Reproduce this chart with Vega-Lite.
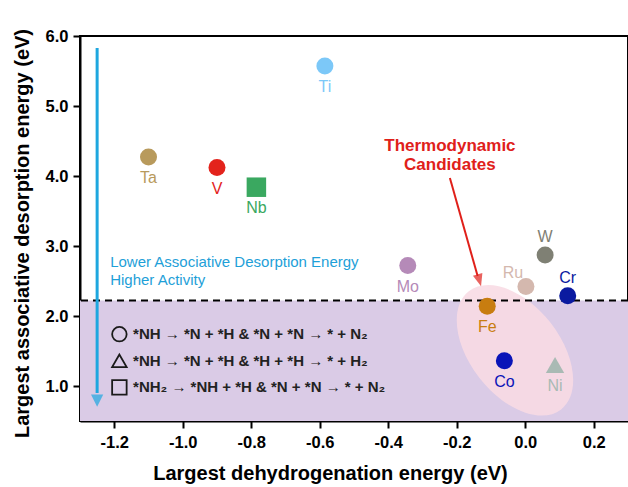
{
  "$schema": "https://vega.github.io/schema/vega-lite/v6.json",
  "width": 548,
  "height": 385,
  "autosize": {"type": "none"},
  "padding": {"left": 80, "top": 36, "right": 0, "bottom": 66},
  "background": "white",
  "config": {
    "font": "Liberation Sans",
    "view": {"stroke": "black", "strokeWidth": 2},
    "axis": {
      "domainColor": "black", "domainWidth": 2, "tickColor": "black", "tickWidth": 2,
      "labelFont": "Liberation Sans", "labelFontWeight": "bold", "labelFontSize": 16.5, "labelColor": "black",
      "titleFont": "Liberation Sans", "titleFontWeight": "bold", "titleFontSize": 20, "titleColor": "black",
      "grid": false
    }
  },
  "datasets": {
    "elements": [
      {"el": "Ti", "dh": -0.585, "ad": 5.57, "rxn": "NH-N2"},
      {"el": "Ta", "dh": -1.10, "ad": 4.27, "rxn": "NH-N2"},
      {"el": "V", "dh": -0.90, "ad": 4.12, "rxn": "NH-N2"},
      {"el": "Nb", "dh": -0.785, "ad": 3.84, "rxn": "NH2-N2"},
      {"el": "Mo", "dh": -0.343, "ad": 2.72, "rxn": "NH-N2"},
      {"el": "W", "dh": 0.058, "ad": 2.87, "rxn": "NH-N2"},
      {"el": "Ru", "dh": 0.002, "ad": 2.42, "rxn": "NH-N2"},
      {"el": "Cr", "dh": 0.124, "ad": 2.29, "rxn": "NH-N2"},
      {"el": "Fe", "dh": -0.111, "ad": 2.14, "rxn": "NH-N2"},
      {"el": "Co", "dh": -0.061, "ad": 1.36, "rxn": "NH-N2"},
      {"el": "Ni", "dh": 0.087, "ad": 1.30, "rxn": "NH-H2"}
    ],
    "legend": [
      {"rxn": "NH-N2", "sx": -1.185, "tx": -1.145, "ly": 1.74, "txt": "*NH → *N + *H & *N + *N → * + N₂"},
      {"rxn": "NH-H2", "sx": -1.185, "tx": -1.145, "ly": 1.36, "txt": "*NH → *N + *H & *H + *H → * + H₂"},
      {"rxn": "NH2-N2", "sx": -1.185, "tx": -1.145, "ly": 0.98, "txt": "*NH₂ → *NH + *H & *N + *N → * + N₂"}
    ]
  },
  "encoding": {
    "x": {"type": "quantitative"},
    "y": {"type": "quantitative"}
  },
  "layer": [
    {
      "data": {"values": [{"lo": 0.5, "hi": 2.22}]},
      "mark": {"type": "rect", "fill": "#dacbe6"},
      "encoding": {
        "y": {"field": "lo", "type": "quantitative", "scale": {"domain": [0.5, 6.0], "nice": false, "zero": false},
          "title": "Largest associative desorption energy (eV)",
          "axis": {
            "values": [1, 1.5, 2, 2.5, 3, 3.5, 4, 4.5, 5, 5.5, 6],
            "labelExpr": "round(datum.value*10)%10==0 ? format(datum.value,'.1f') : ''",
            "tickSize": {"condition": {"test": "round(datum.value*10)%10==0", "value": 7}, "value": 4},
            "labelPadding": 5,
            "titleX": -58, "titleY": 197, "titleBaseline": "middle", "titleAlign": "center", "titleAngle": 270
          }
        },
        "y2": {"field": "hi"}
      }
    },
    {
      "data": {"values": [{"cx": -0.03, "cy": 1.51}]},
      "mark": {"type": "point", "filled": true, "fill": "#f8dbe4", "opacity": 0.88, "strokeWidth": 0,
        "shape": "M-1,0A1,0.6,0,1,0,1,0A1,0.6,0,1,0,-1,0Z", "size": 22500, "angle": 52},
      "encoding": {
        "x": {"field": "cx", "type": "quantitative", "scale": {"domain": [-1.3, 0.3], "nice": false, "zero": false},
          "title": "Largest dehydrogenation energy (eV)",
          "axis": {
            "values": [-1.2, -1.1, -1.0, -0.9, -0.8, -0.7, -0.6, -0.5, -0.4, -0.3, -0.2, -0.1, 0, 0.1, 0.2],
            "labelExpr": "abs(round(datum.value*10))%2==0 ? replace(format(datum.value,'.1f'),'−','-') : ''",
            "tickSize": {"condition": {"test": "abs(round(datum.value*10))%2==0", "value": 7}, "value": 4},
            "labelPadding": 6,
            "titleX": 250, "titleY": 52, "titleBaseline": "middle", "titleAlign": "center"
          }
        },
        "y": {"field": "cy", "type": "quantitative"}
      }
    },
    {
      "data": {"values": [{"v": 2.22}]},
      "mark": {"type": "rule", "stroke": "black", "strokeWidth": 2, "strokeDash": [7, 5]},
      "encoding": {"y": {"field": "v", "type": "quantitative"}}
    },
    {
      "data": {"values": [{"x": -1.25, "top": 5.83, "bottom": 0.9}]},
      "mark": {"type": "rule", "stroke": "#1ea7df", "strokeWidth": 3},
      "encoding": {"x": {"field": "x", "type": "quantitative"}, "y": {"field": "top", "type": "quantitative"}, "y2": {"field": "bottom"}}
    },
    {
      "data": {"values": [{"x": -1.25, "y": 0.79}]},
      "mark": {"type": "point", "filled": true, "fill": "#1ea7df", "strokeWidth": 0, "shape": "M-1,-1L1,-1L0,1Z", "size": 150},
      "encoding": {"x": {"field": "x", "type": "quantitative"}, "y": {"field": "y", "type": "quantitative"}}
    },
    {
      "data": {"values": [{"x": -0.22, "y": 3.97, "x2": -0.139, "y2": 2.57}]},
      "mark": {"type": "rule", "stroke": "#e0201a", "strokeWidth": 2},
      "encoding": {"x": {"field": "x", "type": "quantitative"}, "y": {"field": "y", "type": "quantitative"}, "x2": {"field": "x2"}, "y2": {"field": "y2"}}
    },
    {
      "data": {"values": [{"x": -0.134, "y": 2.51}]},
      "mark": {"type": "point", "filled": true, "fill": "#e0201a", "strokeWidth": 0, "shape": "M-0.8,-1L0.8,-1L0,1Z", "size": 150, "angle": -16},
      "encoding": {"x": {"field": "x", "type": "quantitative"}, "y": {"field": "y", "type": "quantitative"}}
    },
    {
      "data": {"values": [{"x": -0.22, "y": 4.43, "t": "Thermodynamic"}, {"x": -0.22, "y": 4.16, "t": "Candidates"}]},
      "mark": {"type": "text", "font": "Liberation Sans", "fontWeight": "bold", "fontSize": 17, "fill": "#e0201a", "align": "center", "baseline": "middle"},
      "encoding": {"x": {"field": "x", "type": "quantitative"}, "y": {"field": "y", "type": "quantitative"}, "text": {"field": "t"}}
    },
    {
      "data": {"values": [{"x": -1.212, "y": 2.77, "t": "Lower Associative Desorption Energy"}, {"x": -1.212, "y": 2.51, "t": "Higher Activity"}]},
      "mark": {"type": "text", "font": "Liberation Sans", "fontSize": 15, "fill": "#1ea0d8", "align": "left", "baseline": "middle"},
      "encoding": {"x": {"field": "x", "type": "quantitative"}, "y": {"field": "y", "type": "quantitative"}, "text": {"field": "t"}}
    },
    {
      "data": {"name": "legend"},
      "mark": {"type": "point", "filled": false, "stroke": "#1a1a1a", "strokeWidth": 1.8, "size": 210, "opacity": 1},
      "encoding": {
        "x": {"field": "sx", "type": "quantitative"}, "y": {"field": "ly", "type": "quantitative"},
        "shape": {"field": "rxn", "type": "nominal", "scale": {"domain": ["NH-N2", "NH-H2", "NH2-N2"], "range": ["circle", "triangle-up", "square"]}, "legend": null}
      }
    },
    {
      "data": {"name": "legend"},
      "mark": {"type": "text", "font": "Liberation Sans", "fontWeight": "bold", "fontSize": 15, "fill": "#222222", "align": "left", "baseline": "middle"},
      "encoding": {"x": {"field": "tx", "type": "quantitative"}, "y": {"field": "ly", "type": "quantitative"}, "text": {"field": "txt"}}
    },
    {
      "data": {"name": "elements"},
      "mark": {"type": "point", "filled": true, "opacity": 1, "strokeWidth": 0},
      "encoding": {
        "x": {"field": "dh", "type": "quantitative"}, "y": {"field": "ad", "type": "quantitative"},
        "shape": {"field": "rxn", "type": "nominal", "legend": null},
        "size": {"field": "rxn", "type": "nominal", "scale": {"domain": ["NH-N2", "NH-H2", "NH2-N2"], "range": [289, 380, 234]}, "legend": null},
        "color": {"field": "el", "type": "nominal", "legend": null,
          "scale": {"domain": ["Ti", "Ta", "V", "Nb", "Mo", "W", "Ru", "Cr", "Fe", "Co", "Ni"],
            "range": ["#7cc8f8", "#b89a5c", "#e3231c", "#3aa860", "#b58ab8", "#7f8074", "#d4b8ae", "#0a1aa0", "#c87d10", "#0a14b8", "#a9bab4"]}}
      }
    },
    {
      "data": {"name": "elements"},
      "transform": [{"filter": "indexof(['W','Cr','Ru'], datum.el) < 0"}],
      "mark": {"type": "text", "font": "Liberation Sans", "fontSize": 16, "dy": 21, "baseline": "middle", "align": "center"},
      "encoding": {
        "x": {"field": "dh", "type": "quantitative"}, "y": {"field": "ad", "type": "quantitative"},
        "text": {"field": "el"},
        "fontWeight": {"condition": {"test": "datum.el=='Fe' || datum.el=='Co'", "value": "bold"}, "value": "normal"},
        "color": {"field": "el", "type": "nominal", "legend": null}
      }
    },
    {
      "data": {"name": "elements"},
      "transform": [{"filter": "datum.el=='W' || datum.el=='Cr'"}],
      "mark": {"type": "text", "font": "Liberation Sans", "fontSize": 16, "dy": -18, "baseline": "middle", "align": "center"},
      "encoding": {
        "x": {"field": "dh", "type": "quantitative"}, "y": {"field": "ad", "type": "quantitative"},
        "text": {"field": "el"},
        "color": {"field": "el", "type": "nominal", "legend": null}
      }
    },
    {
      "data": {"name": "elements"},
      "transform": [{"filter": "datum.el=='Ru'"}],
      "mark": {"type": "text", "font": "Liberation Sans", "fontSize": 16, "dy": -14, "dx": -13, "baseline": "middle", "align": "center"},
      "encoding": {
        "x": {"field": "dh", "type": "quantitative"}, "y": {"field": "ad", "type": "quantitative"},
        "text": {"field": "el"},
        "color": {"field": "el", "type": "nominal", "legend": null}
      }
    }
  ]
}
